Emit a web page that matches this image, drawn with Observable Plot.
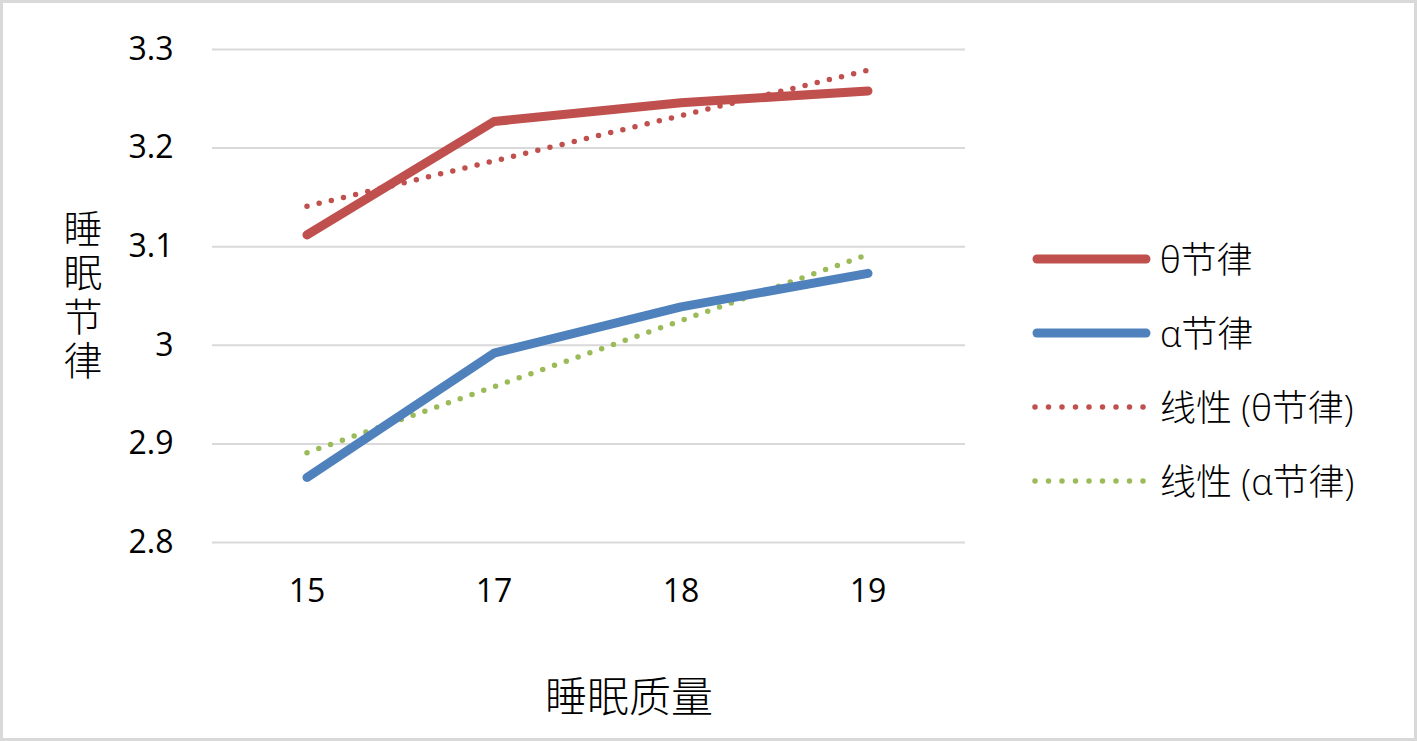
<!DOCTYPE html>
<html>
<head>
<meta charset="utf-8">
<script src="https://cdn.jsdelivr.net/npm/d3@7"></script>
<script src="https://cdn.jsdelivr.net/npm/@observablehq/plot@0.6"></script>
<style>
  html, body { margin: 0; padding: 0; background: #fff; }
  #chart { position: relative; width: 1417px; height: 741px; }
</style>
</head>
<body>
<div id="chart"></div>
<script>
const categories = ["15", "17", "18", "19"];
const thetaValues = [3.112, 3.227, 3.246, 3.258];
const alphaValues = [2.866, 2.992, 3.039, 3.073];
const thetaTrend = [3.141, 3.187, 3.233, 3.279];
const alphaTrend = [2.891, 2.958, 3.025, 3.092];
const yTicks = [2.8, 2.9, 3.0, 3.1, 3.2, 3.3];
const seriesNames = ["θ节律", "α节律", "线性 (θ节律)", "线性 (α节律)"];
const colors = ["#C0504D", "#4F81BD", "#C0504D", "#9BBB59"];
const xTitle = "睡眠质量";
const yTitle = "睡眠节律";

const FONT = "'Open Sans', 'Noto Sans CJK SC', sans-serif";
const CJK = "'Noto Sans CJK SC', sans-serif";

const toRows = (vals) => categories.map((c, i) => ({x: c, y: vals[i]}));

const W = 1417, H = 741;
const plot = Plot.plot({
  width: W,
  height: H,
  marginLeft: 213,
  marginRight: W - 961,
  marginTop: 49,
  marginBottom: H - 542,
  style: {fontFamily: FONT, fontSize: "32px", color: "#000", background: "#fff"},
  x: {type: "band", domain: categories, padding: 0, label: null},
  y: {domain: [2.8, 3.3], label: null},
  marks: [
    Plot.ruleY(yTicks, {stroke: "#d9d9d9", strokeWidth: 2, insetLeft: -1, insetRight: -4}),
    Plot.axisY({ticks: yTicks, tickSize: 0, tickPadding: 40, tickFormat: d => d3.format("~g")(d), fontSize: 32, label: null}),
    Plot.axisX({tickSize: 0, tickPadding: 37, fontSize: 32, label: null}),
    Plot.line(toRows(thetaTrend), {x: "x", y: "y", stroke: colors[2], strokeWidth: 5.5, strokeDasharray: "0 12.5", strokeLinecap: "round"}),
    Plot.line(toRows(alphaTrend), {x: "x", y: "y", stroke: colors[3], strokeWidth: 5.5, strokeDasharray: "0 12.5", strokeLinecap: "round"}),
    Plot.line(toRows(thetaValues), {x: "x", y: "y", stroke: colors[0], strokeWidth: 9, strokeLinecap: "round", strokeLinejoin: "round"}),
    Plot.line(toRows(alphaValues), {x: "x", y: "y", stroke: colors[1], strokeWidth: 9, strokeLinecap: "round", strokeLinejoin: "round"}),
  ]
});

const svg = d3.select(plot);

// border
svg.append("rect")
  .attr("x", 1.5).attr("y", 1.5).attr("width", W - 3).attr("height", H - 3)
  .attr("fill", "none").attr("stroke", "#d9d9d9").attr("stroke-width", 3);

// y title (vertical, upright characters)
svg.append("text")
  .attr("x", 83).attr("y", 209)
  .attr("text-anchor", "start")
  .style("writing-mode", "vertical-rl")
  .style("text-orientation", "upright")
  .style("letter-spacing", "5px")
  .style("font-family", CJK).style("font-size", "39px").style("font-weight", 300)
  .attr("fill", "#000").text(yTitle);

// x title
svg.append("text")
  .attr("x", 629).attr("y", 693)
  .attr("text-anchor", "middle").attr("dominant-baseline", "central")
  .style("font-family", CJK).style("font-size", "42px").style("font-weight", 300)
  .attr("fill", "#000").text(xTitle);

// legend
const legendY = [259, 333, 407, 481];
const lg = svg.append("g");
seriesNames.forEach((name, i) => {
  const dotted = i >= 2;
  lg.append("line")
    .attr("x1", dotted ? 1035 : 1037).attr("x2", dotted ? 1145 : 1146)
    .attr("y1", legendY[i]).attr("y2", legendY[i])
    .attr("stroke", colors[i])
    .attr("stroke-width", dotted ? 5.5 : 9)
    .attr("stroke-linecap", "round")
    .attr("stroke-dasharray", dotted ? "0 13.5" : null);
  lg.append("text")
    .attr("x", 1160).attr("y", legendY[i])
    .attr("text-anchor", "start")
    .attr("dominant-baseline", "central")
    .style("font-family", FONT).style("font-size", "36px").style("font-weight", 300)
    .attr("fill", "#000").text(name);
});

document.getElementById("chart").appendChild(plot);
</script>
</body>
</html>
